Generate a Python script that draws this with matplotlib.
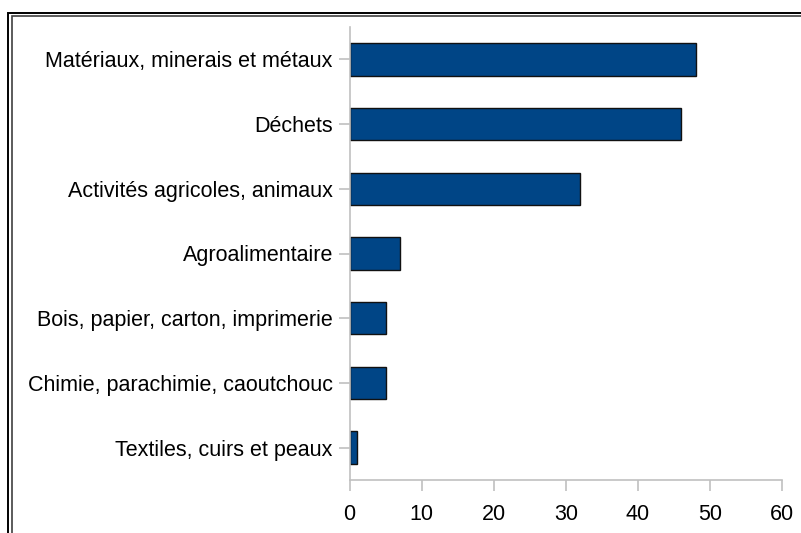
import matplotlib
matplotlib.use('Agg')
import matplotlib.pyplot as plt
from matplotlib.lines import Line2D

categories = [
    'Matériaux, minerais et métaux',
    'Déchets',
    'Activités agricoles, animaux',
    'Agroalimentaire',
    'Bois, papier, carton, imprimerie',
    'Chimie, parachimie, caoutchouc',
    'Textiles, cuirs et peaux',
]
values = [48, 46, 32, 7, 5, 5, 1]
xticks = [0, 10, 20, 30, 40, 50, 60]

plt.rcParams['font.family'] = ['Liberation Sans', 'DejaVu Sans']

W, H = 801, 533
fig = plt.figure(figsize=(W / 100, H / 100), dpi=100)
ax = fig.add_axes([349.5 / W, 1 - 480 / H, (782 - 349.5) / W, (480 - 27) / H])

ypos = list(range(len(categories)))
ax.barh(ypos, values, height=0.5, color='#004586', edgecolor='#111111', linewidth=1)
ax.set_ylim(len(categories) - 0.5, -0.5)
ax.set_xlim(0, 60)
ax.set_yticks(ypos)
ax.set_yticklabels(categories, fontsize=15.5)
ax.set_xticks(xticks)
ax.set_xticklabels([str(t) for t in xticks], fontsize=15.5)

for side in ['top', 'right']:
    ax.spines[side].set_visible(False)
for side in ['left', 'bottom']:
    ax.spines[side].set_color('#c0c0c0')
    ax.spines[side].set_linewidth(1.2)
ax.tick_params(axis='both', colors='#c0c0c0', length=8, width=1.2, labelcolor='black')
ax.tick_params(axis='y', pad=4)
ax.tick_params(axis='x', pad=9)

# double frame, cut off at right and bottom
def px(x, y):
    return x / W, 1 - y / H

for (x0, y0, c, lw) in [(7.5, 12.5, 'black', 1.4), (11.5, 15.5, '#404040', 1.2)]:
    xa, ya = px(x0, H + 5)
    xb, yb = px(x0, y0)
    xc, yc = px(W + 5, y0)
    fig.add_artist(Line2D([xa, xb, xc], [ya, yb, yc], color=c, linewidth=lw,
                          transform=fig.transFigure, solid_joinstyle='miter'))

plt.savefig('out.png', dpi=100)
